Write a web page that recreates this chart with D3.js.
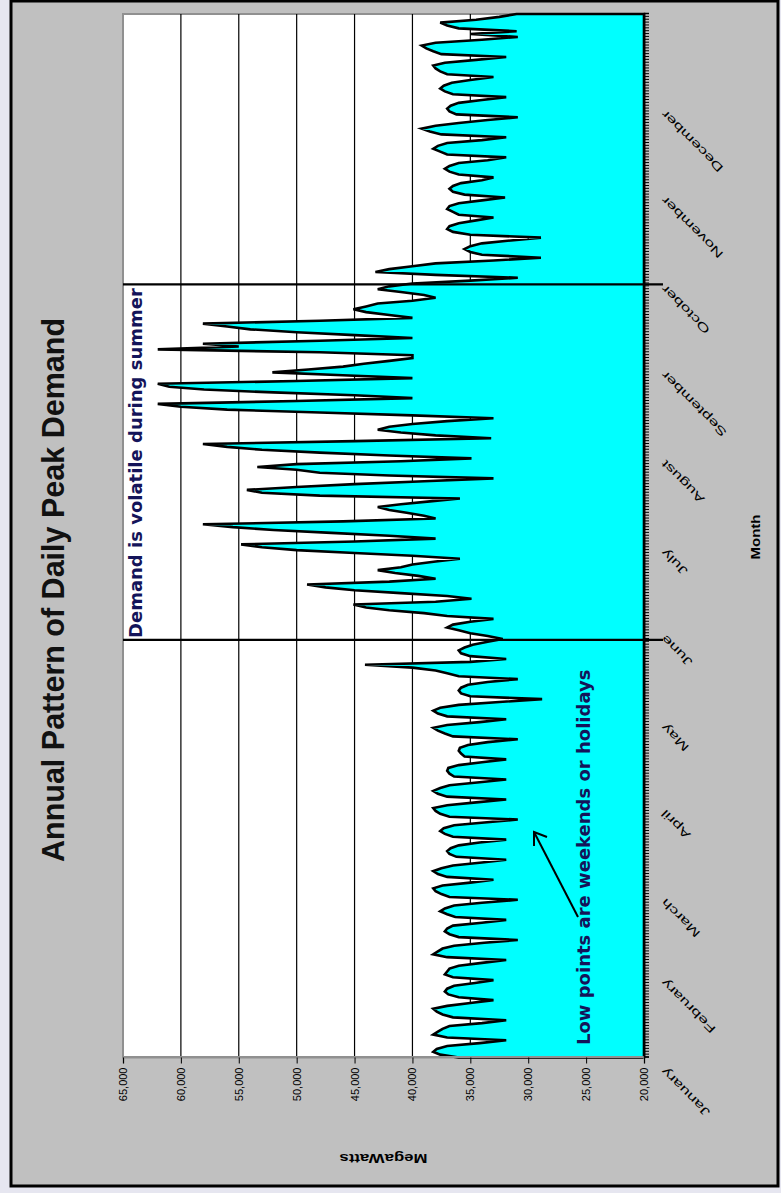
<!DOCTYPE html>
<html>
<head>
<meta charset="utf-8">
<script src="https://cdn.jsdelivr.net/npm/d3@7"></script>
<style>
body { margin: 0; background: #e6e6f0; }
svg { display: block; }
</style>
</head>
<body>
<svg id="chart"></svg>
<script>
var months = ["January","February","March","April","May","June","July","August","September","October","November","December"];
var monthStart = [0,31,59,90,120,151,181,212,243,273,304,334];
var valueTicks = [20000,25000,30000,35000,40000,45000,50000,55000,60000,65000];
// the two day positions where summer is marked off
var summerMarks = [145.7, 269.7];

// daily peak (MW), one row per week, Monday first
var dailyPeak = [
  36000,37600,38200,37900,37000,34200,31900,
  37000,38200,37800,37400,36800,34000,31900,
  36500,37400,37900,38200,37000,35000,33000,
  36000,36900,37200,37000,36400,34600,33000,
  36500,37200,37000,36800,36000,34000,31900,
  37000,38200,37800,37400,36400,33800,30900,
  36000,36800,37200,37000,36500,34000,31900,
  36300,37000,37600,37200,36400,34000,30900,
  36800,37500,38000,38200,37400,35000,33000,
  37000,37800,38200,37500,36500,34000,31900,
  36200,36800,37000,36700,36000,34200,31900,
  36500,37200,37600,37300,36400,33800,30900,
  36800,37600,38000,38200,37000,34500,31900,
  37000,37800,38200,37600,36800,34200,31900,
  36400,36800,37000,36900,36000,34000,31900,
  35500,35800,36000,35900,35200,33500,30900,
  36500,37200,37800,38200,37000,34200,31900,
  37000,37800,38200,37600,36000,32500,28800,
  35000,35800,36000,35800,35200,33500,30900,
  36000,37000,38000,40000,44100,35000,31900,
  35000,35800,36000,35500,34800,33500,32200,
  33500,35000,36000,37000,36500,35000,33000,
  37000,39000,42000,44000,45100,38000,34900,
  37000,41000,45000,47500,49100,42000,38000,
  39500,41500,43000,41000,40000,38000,35900,
  40000,45000,50000,53000,54800,45000,38000,
  42000,47000,52000,55500,58100,46000,38000,
  39000,40500,42000,43000,41000,38500,35900,
  48000,53000,54300,50000,45000,39000,33000,
  42000,48000,50000,53400,50000,41000,34900,
  42000,48000,53000,56000,58100,45000,33200,
  38000,41000,43000,42000,40000,37000,33000,
  40000,48000,56000,60000,62000,50000,40000,
  45000,52000,58000,61000,62000,50000,40000,
  46000,52100,49000,46000,44200,42000,40000,
  40000,48000,62000,55000,58100,48000,40000,
  45000,50000,54000,56000,58100,48000,40000,
  42000,44000,45100,44000,43000,40000,38000,
  39000,41000,43000,42000,40000,35000,30900,
  38000,43200,42000,40000,38000,33000,28900,
  34000,35000,35500,35000,34000,31500,28900,
  35000,36500,37000,36800,36000,34500,33000,
  36000,36500,37000,36800,36000,34000,32000,
  35500,36500,36800,36500,35800,34000,33000,
  36000,36800,37200,36800,36000,33500,31900,
  37000,37600,38200,37800,37000,34000,31900,
  37500,38500,39200,38000,36000,33500,30900,
  36200,36800,37000,36700,36000,34000,31900,
  36500,37200,37600,37300,36600,35000,33000,
  37000,37600,38000,38200,37200,34500,31900,
  37500,38200,38800,39200,38000,34000,30900,
  35000,31000,36000,37000,37600,34500,32500,
  31000
];

var W = 781, H = 1193;
var svg = d3.select("#chart").attr("width", W).attr("height", H);

// outer frame
svg.append("rect")
  .attr("x", 11).attr("y", 1).attr("width", 767).attr("height", 1185)
  .attr("fill", "#c0c0c0").attr("stroke", "#000").attr("stroke-width", 3);

// the chart is laid out landscape, then turned a quarter turn
var g = svg.append("g").attr("transform", "translate(0," + H + ") rotate(-90)");

var x = d3.scaleLinear().domain([0, dailyPeak.length - 1]).range([135.5, 1179]);
var y = d3.scaleLinear().domain([20000, 65000]).range([644, 123]);

g.append("rect")
  .attr("x", x(0)).attr("y", y(65000))
  .attr("width", x(dailyPeak.length - 1) - x(0))
  .attr("height", y(20000) - y(65000))
  .attr("fill", "#fff").attr("stroke", "#909090").attr("stroke-width", 2);

g.selectAll(".grid")
  .data(valueTicks.filter(function(v){ return v > 20000 && v < 65000; }))
  .enter().append("line")
  .attr("x1", x(0)).attr("x2", x(dailyPeak.length - 1))
  .attr("y1", function(d){ return y(d); }).attr("y2", function(d){ return y(d); })
  .attr("stroke", "#000").attr("stroke-width", 1.2);

var area = d3.area()
  .x(function(d, i){ return x(i); })
  .y0(y(20000))
  .y1(function(d){ return y(d); });

g.append("path")
  .datum(dailyPeak)
  .attr("d", area)
  .attr("fill", "#00ffff")
  .attr("stroke", "#000")
  .attr("stroke-width", 2.6)
  .attr("stroke-linejoin", "miter");

// summer marker lines
g.selectAll(".mark")
  .data(summerMarks)
  .enter().append("line")
  .attr("x1", function(d){ return x(d); }).attr("x2", function(d){ return x(d); })
  .attr("y1", y(65000)).attr("y2", 663)
  .attr("stroke", "#000").attr("stroke-width", 2.2);

// value axis
var yAxis = g.append("g")
  .attr("transform", "translate(" + x(0) + ",0)")
  .call(d3.axisLeft(y).tickValues(valueTicks).tickSize(6).tickPadding(4)
    .tickFormat(d3.format(",")));
yAxis.select(".domain").attr("stroke", "#909090").attr("stroke-width", 2);
yAxis.selectAll(".tick line").attr("stroke", "#000");
yAxis.selectAll("text")
  .attr("font-family", "'Liberation Sans', Arial, sans-serif")
  .attr("font-size", 11).attr("fill", "#000");

// category axis with a tick for every day
var xAxis = g.append("g")
  .attr("transform", "translate(0," + y(20000) + ")")
  .call(d3.axisBottom(x).tickValues(d3.range(dailyPeak.length)).tickSize(5).tickFormat(""));
xAxis.select(".domain").attr("stroke", "#000").attr("stroke-width", 1.5);
xAxis.selectAll(".tick line").attr("stroke", "#000").attr("stroke-width", 1);

// month names are drawn wide, as in the original
g.selectAll(".month")
  .data(months)
  .enter().append("text")
  .attr("transform", function(d, i){
    return "translate(" + (x(monthStart[i]) - 9.5) + ",666) rotate(-45) scale(1.55,1)";
  })
  .attr("text-anchor", "end")
  .attr("font-family", "'Liberation Sans', Arial, sans-serif")
  .attr("font-size", 11.5)
  .text(function(d){ return d; });

// titles
g.append("text")
  .attr("x", 603).attr("y", 64)
  .attr("text-anchor", "middle")
  .attr("font-family", "'Liberation Sans', Arial, sans-serif")
  .attr("font-weight", "bold").attr("font-size", 30.5)
  .attr("fill", "#111")
  .text("Annual Pattern of Daily Peak Demand");

g.append("text")
  .attr("x", 656).attr("y", 760)
  .attr("text-anchor", "middle")
  .attr("font-family", "'Liberation Sans', Arial, sans-serif")
  .attr("font-weight", "bold").attr("font-size", 13)
  .attr("textLength", 45).attr("lengthAdjust", "spacingAndGlyphs")
  .text("Month");

g.append("text")
  .attr("transform", "translate(39," + ((y(20000) + y(65000)) / 2) + ") rotate(-90)")
  .attr("text-anchor", "middle")
  .attr("font-family", "'Liberation Sans', Arial, sans-serif")
  .attr("font-weight", "bold").attr("font-size", 13)
  .attr("textLength", 88).attr("lengthAdjust", "spacingAndGlyphs")
  .text("MegaWatts");

// notes
g.append("text")
  .attr("x", 555).attr("y", 142)
  .attr("font-family", "'DejaVu Sans', Verdana, sans-serif")
  .attr("font-weight", "bold").attr("font-size", 18)
  .attr("fill", "#14145a")
  .text("Demand is volatile during summer");

g.append("text")
  .attr("x", 148).attr("y", 590)
  .attr("font-family", "'DejaVu Sans', Verdana, sans-serif")
  .attr("font-weight", "bold").attr("font-size", 18)
  .attr("fill", "#14145a")
  .text("Low points are weekends or holidays");

g.append("line")
  .attr("x1", 276).attr("y1", 578).attr("x2", 361).attr("y2", 534)
  .attr("stroke", "#000").attr("stroke-width", 2);
g.append("path")
  .attr("d", "M347,534 L361,534 L356,547")
  .attr("fill", "none").attr("stroke", "#000").attr("stroke-width", 2);
</script>
</body>
</html>
